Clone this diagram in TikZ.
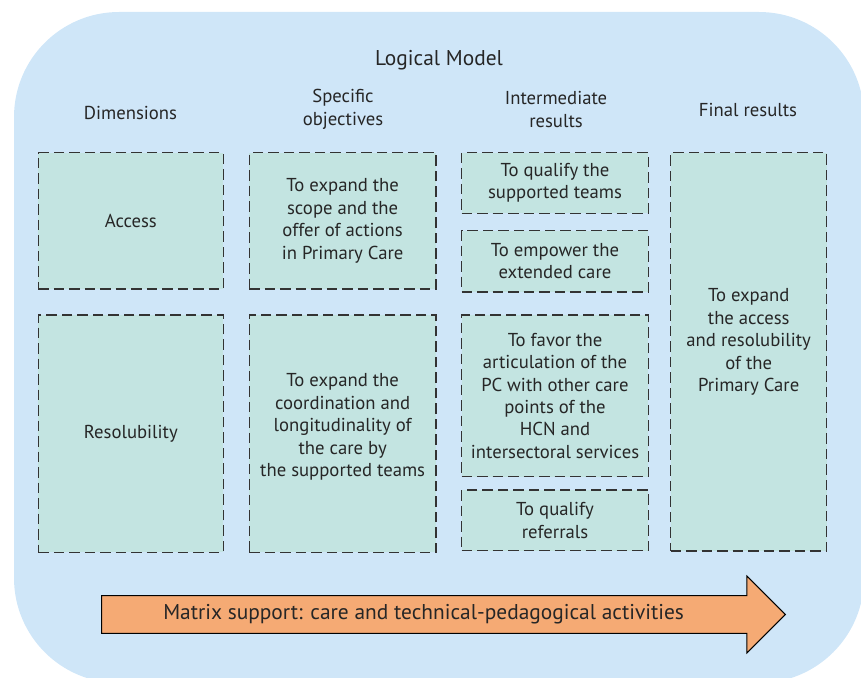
\documentclass[tikz,border=0pt]{standalone}
\usepackage{fontspec}
\setmainfont{PT Sans}
\definecolor{bgblue}{HTML}{CFE6F8}
\definecolor{boxfill}{HTML}{C3E4E1}
\definecolor{arrowfill}{HTML}{F5AA74}
\definecolor{dashcol}{HTML}{333333}
\begin{document}
\begin{tikzpicture}[x=1pt,y=-1pt,
  txt/.style={font=\fontsize{18.7}{22.4}\selectfont, align=center, text=black!85, inner sep=0pt},
  bigtxt/.style={txt, font=\fontsize{21.4}{24}\selectfont},
  dbox/.style={txt, draw=dashcol, fill=boxfill, line width=1.4pt, dash pattern=on 10.5pt off 5pt, rectangle},
]
\useasboundingbox (0,0) rectangle (861,677);
\begin{scope}
\clip (0,0) rectangle (861,677);
\fill[bgblue, rounded corners=105pt] (14,12) rectangle (864,683);
\end{scope}

\node[bigtxt] (title) at (439,60) {Logical Model};
\node[txt] (hdim) at (130.5,113) {Dimensions};
\node[txt, font=\fontsize{18.7}{23}\selectfont] (hspec) at (343,109) {Specific\\objectives};
\node[txt, font=\fontsize{18.7}{23}\selectfont] (hint) at (556,109) {Intermediate\\results};
\node[txt] (hfin) at (748,110) {Final results};

\node[dbox, minimum width=185pt, minimum height=136.3pt] (acc) at (130.8,220.85) {Access};
\node[dbox, minimum width=185pt, minimum height=237.3pt] (res) at (130.8,433.65) {Resolubility};
\node[dbox, minimum width=186.7pt, minimum height=136.3pt] (so1) at (342.65,220.85) {To expand the\\scope and the\\offer of actions\\in Primary Care};
\node[dbox, minimum width=186.7pt, minimum height=237.3pt] (so2) at (342.65,433.65) {};
\node[txt] (so2t) at (342.65,427) {To expand the\\coordination and\\longitudinality of\\the care by\\the supported teams};
\node[dbox, minimum width=186.6pt, minimum height=60.6pt] (ir1) at (555,183) {To qualify the\\supported teams};
\node[dbox, minimum width=186.6pt, minimum height=61.3pt] (ir2) at (555,261.35) {To empower the\\extended care};
\node[dbox, minimum width=186.6pt, minimum height=161.7pt] (ir3) at (555,395.85) {To favor the\\articulation of the\\PC with other care\\points of the\\HCN and\\intersectoral services};
\node[dbox, minimum width=186.6pt, minimum height=60.7pt] (ir4) at (555,520.35) {To qualify\\referrals};
\node[dbox, minimum width=156pt, minimum height=398.3pt] (fr) at (748.7,351.85) {};
\node[txt] (frt) at (748.7,342) {To expand\\the access\\and resolubility\\of the\\Primary Care};

\draw[fill=arrowfill, draw=black, line width=1pt, line join=miter]
  (101.6,595.7) -- (746.8,595.7) -- (746.8,576) -- (785.3,614.5) -- (746.8,653) -- (746.8,633.3) -- (101.6,633.3) -- cycle;
\node[bigtxt] (mtx) at (423.6,614.5) {Matrix support: care and technical-pedagogical activities};
\end{tikzpicture}
\end{document}
